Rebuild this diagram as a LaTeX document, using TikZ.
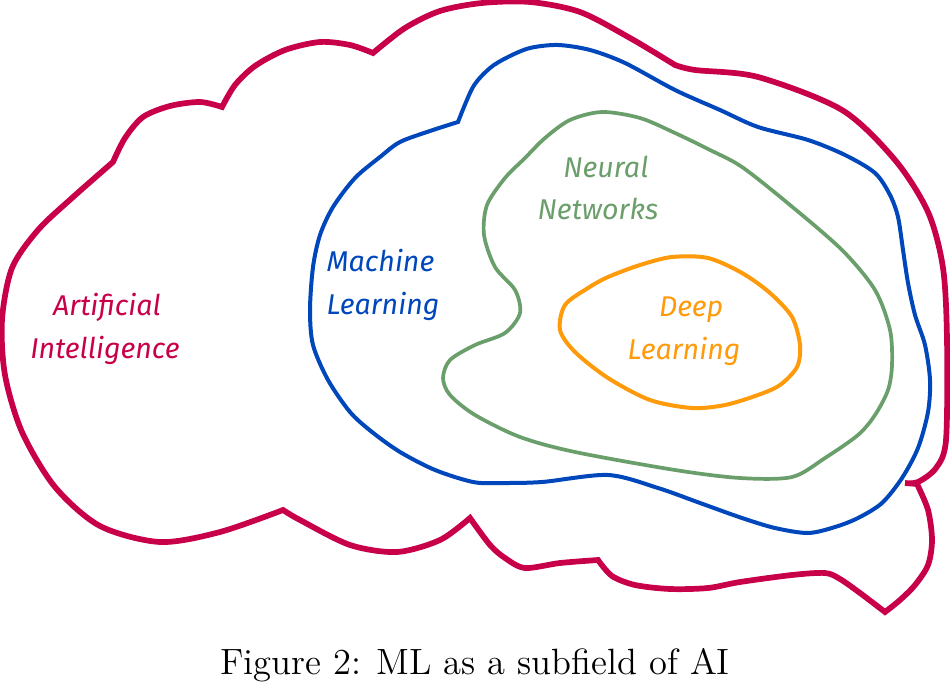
\documentclass[tikz,border=0pt]{standalone}
\usepackage{fontspec}
\usepackage{tikz}
\usetikzlibrary{positioning}
\newfontfamily\handfont{Fira Sans}
\definecolor{aicolor}{HTML}{C8004A}
\definecolor{mlcolor}{HTML}{0047BB}
\definecolor{nncolor}{HTML}{6A9E6A}
\definecolor{dlcolor}{HTML}{FF9A0A}

\begin{document}
\begin{tikzpicture}[
			x=0.35pt, y=-0.35pt,
			line join=round, line cap=round,
			field/.style={draw, line width=#1},
			hand/.style={font=\handfont\itshape\fontsize{10}{15}\selectfont, align=left, inner sep=0pt},
			]
			\useasboundingbox (0,0) rectangle (950,690);
			\draw[field=2pt, aicolor, line join=miter]
				plot[smooth] coordinates {(283,510) (220,532) (160,542) (100,526) (55,487) (22,432) (5,375) (2,320) (12,268) (38,230) (72,198) (113,162)}
				-- plot[smooth] coordinates {(113,162) (125,138) (143,117) (170,106) (200,102) (222,107)}
				-- plot[smooth] coordinates {(222,107) (235,85) (255,66) (285,50) (320,42) (350,45) (373,53)}
				-- plot[smooth] coordinates {(373,53) (405,28) (440,11) (482,3) (530,2) (580,12) (630,38) (675,65)}
				-- plot[smooth] coordinates {(675,65) (695,70) (758,77) (842,110) (895,160) (928,212) (943,268) (947,340) (946,440) (936,468) (918,482) (905,483)}
				-- (917,484)
				-- plot[smooth] coordinates {(917,484) (928,510) (932,540) (928,565) (915,585) (900,600) (885,612)}
				-- plot[smooth] coordinates {(885,612) (860,593) (840,579) (825,573) (792,575) (740,582) (708,588) (670,589) (635,585) (612,576) (598,560)}
				-- plot[smooth] coordinates {(598,560) (560,563) (525,568) (505,558) (490,545) (470,518)}
				-- plot[smooth] coordinates {(470,518) (440,540) (397,552) (350,545) (300,520) (283,510)}
				-- cycle;
			\draw[field=1.4pt, mlcolor, line join=miter]
				plot[smooth] coordinates {(458,122) (473,87) (490,68) (508,57) (530,48) (558,45) (590,50) (625,63) (675,90) (720,110) (758,127) (808,140) (845,155) (875,173) (890,195) (898,217) (903,250) (908,283) (915,315) (925,345) (930,380) (928,412) (918,448) (902,478) (882,503) (858,518) (835,527) (808,533) (775,528) (742,518) (700,503) (658,488) (608,475) (542,482) (500,483) (473,482) (435,470) (400,452) (372,432) (350,412) (328,380) (313,345) (310,310) (313,267) (320,235) (333,207) (355,178) (380,157) (400,142) (430,131) (458,122)}
				-- cycle;
			\draw[field=1.3pt, nncolor]
				plot[smooth cycle] coordinates {(602,112) (640,118) (675,133) (710,150) (742,167) (790,205) (842,250) (875,290) (890,330) (892,365) (888,390) (875,415) (858,435) (825,458) (792,477) (740,478) (675,470) (575,452) (520,437) (475,415) (450,395) (443,378) (450,360) (475,345) (505,333) (520,313) (515,290) (495,267) (484,235) (487,205) (505,178) (525,158) (545,138) (570,120)};
			\draw[field=1.4pt, dlcolor]
				plot[smooth cycle] coordinates {(672,257) (708,258) (742,273) (770,293) (792,317) (800,345) (797,367) (780,385) (758,395) (725,405) (692,408) (650,400) (608,378) (575,352) (560,330) (565,305) (588,288) (608,277) (640,265)};

			\node[hand, text=aicolor] (ai) at (105,329) {\hspace{0.8em}Artificial\\Intelligence};
			\node[hand, text=mlcolor] (ml) at (383,285) {Machine\\Learning};
			\node[hand, text=nncolor] (nn) at (598,188) {\hspace{0.9em}Neural\\Networks};
			\node[hand, text=dlcolor] (dl) at (684,331) {\hspace{1.1em}Deep\\Learning};
			\node[font=\fontsize{12.8}{15}\selectfont, inner sep=0pt] (caption) at (475,665) {Figure 2: ML as a subfield of AI};
		\end{tikzpicture}
\end{document}
